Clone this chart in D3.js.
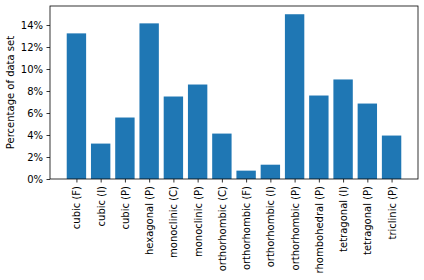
<!DOCTYPE html>
<html>
<head>
<meta charset="utf-8">
<script src="https://cdn.jsdelivr.net/npm/d3@7"></script>
<style>
  body { margin: 0; background: #fff; }
  text { font-family: "DejaVu Sans", sans-serif; }
</style>
</head>
<body>
<script>
// lattice categories and their share of the data set (%)
var categories = ["cubic (F)", "cubic (I)", "cubic (P)", "hexagonal (P)", "monoclinic (C)",
  "monoclinic (P)", "orthorhombic (C)", "orthorhombic (F)", "orthorhombic (I)",
  "orthorhombic (P)", "rhombohedral (P)", "tetragonal (I)", "tetragonal (P)", "triclinic (P)"];
var percents = [13.24, 3.22, 5.59, 14.15, 7.50, 8.59, 4.13, 0.76, 1.30, 14.98, 7.59, 9.05, 6.86, 3.95];
var yTicks = [0, 2, 4, 6, 8, 10, 12, 14];

var width = 424, height = 280;
var margin = {top: 6, right: 6, bottom: 101, left: 50};

var svg = d3.select('body').append('svg')
            .attr("width", width)
            .attr("height", height);

var n = categories.length;
var x = d3.scaleLinear()
          .domain([-0.4 - 0.69, n - 1 + 0.4 + 0.69])
          .range([margin.left, width - margin.right]);

var ymax = d3.max(percents) * 1.05;
var y = d3.scaleLinear()
          .domain([0, ymax])
          .range([height - margin.bottom, margin.top]);

svg.selectAll('rect.bar')
   .data(percents)
   .enter().append('rect')
   .attr('class', 'bar')
   .attr('x', function (d, i) { return x(i - 0.4); })
   .attr('width', function () { return x(0.4) - x(-0.4); })
   .attr('y', function (d) { return y(d); })
   .attr('height', function (d) { return y(0) - y(d); })
   .attr('fill', '#1f77b4');

// y axis
var yAxis = d3.axisLeft(y)
              .tickValues(yTicks)
              .tickSize(3.5)
              .tickPadding(3.5)
              .tickFormat(function (d) { return d + "%"; });
var gy = svg.append('g')
            .attr('transform', 'translate(' + margin.left + ',0)')
            .call(yAxis);
gy.select('.domain').remove();
gy.selectAll('text').attr('font-size', 10).attr('fill', '#000').style('font-family', '"DejaVu Sans"');
gy.selectAll('line').attr('stroke', '#000').attr('stroke-width', 0.8);

// x axis
var xAxis = d3.axisBottom(x)
              .tickValues(d3.range(n))
              .tickSize(3.5)
              .tickFormat(function (d) { return categories[d]; });
var gx = svg.append('g')
            .attr('transform', 'translate(0,' + (height - margin.bottom) + ')')
            .call(xAxis);
gx.select('.domain').remove();
gx.selectAll('line').attr('stroke', '#000').attr('stroke-width', 0.8);
gx.selectAll('text')
  .attr('font-size', 10)
  .attr('fill', '#000')
  .style('font-family', '"DejaVu Sans"')
  .attr('text-anchor', 'end')
  .attr('transform', 'rotate(-90)')
  .attr('x', -7)
  .attr('y', 0)
  .attr('dy', '0.35em');

// frame
svg.append('rect')
   .attr('x', margin.left)
   .attr('y', margin.top)
   .attr('width', width - margin.left - margin.right)
   .attr('height', height - margin.top - margin.bottom)
   .attr('fill', 'none')
   .attr('stroke', '#000')
   .attr('stroke-width', 0.8);

// y label
svg.append('text')
   .attr('transform', 'translate(14,' + (margin.top + (height - margin.top - margin.bottom) / 2) + ') rotate(-90)')
   .attr('text-anchor', 'middle')
   .attr('font-size', 10)
   .text('Percentage of data set');
</script>
</body>
</html>
